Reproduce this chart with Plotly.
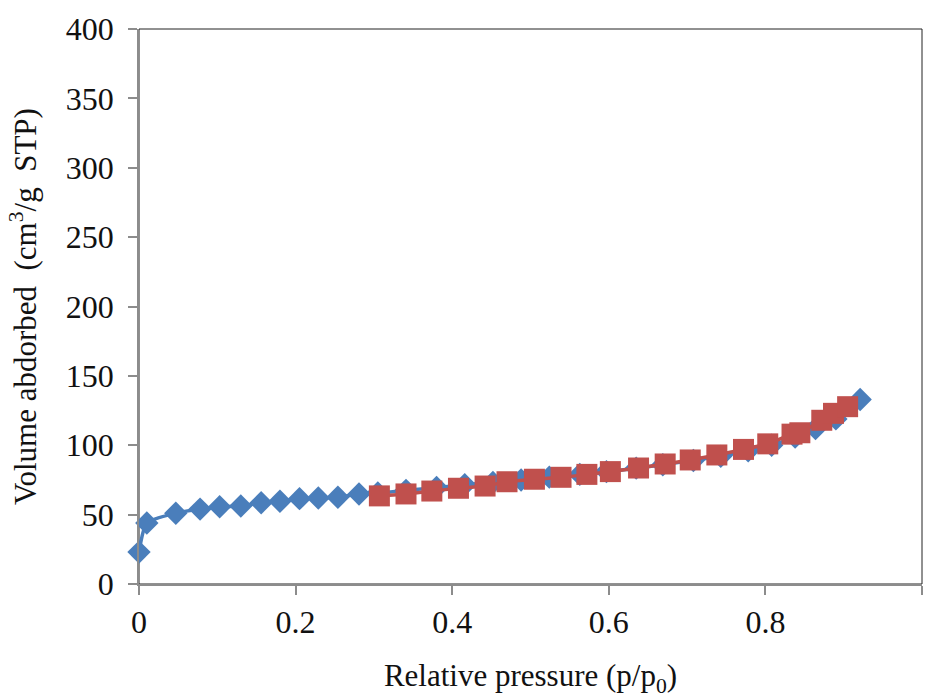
import plotly.graph_objects as go

# Adsorption branch (blue diamonds)
ads_p = [0.0, 0.010, 0.047, 0.078, 0.103, 0.130, 0.156, 0.180, 0.205, 0.229, 0.254, 0.281,
         0.305, 0.341, 0.380, 0.416, 0.452, 0.488, 0.524, 0.563, 0.597, 0.635, 0.669,
         0.708, 0.743, 0.778, 0.808, 0.838, 0.864, 0.890, 0.921]
ads_v = [23, 44, 51, 54, 55.7, 56.2, 58.6, 59.6, 61.5, 62, 62.5, 64.9,
         65.6, 67.5, 69.5, 71.5, 73.2, 75, 77, 79, 81, 83.5, 86,
         89, 92, 96, 100, 106, 112, 119, 133]

# Desorption branch (red squares)
des_p = [0.307, 0.341, 0.374, 0.408, 0.442, 0.470, 0.505, 0.539, 0.572, 0.602, 0.638,
         0.672, 0.704, 0.738, 0.772, 0.803, 0.834, 0.844, 0.872, 0.887, 0.905]
des_v = [63.5, 64.9, 67, 69, 70.6, 73.7, 75.5, 76.9, 79, 81, 83.6,
         86.5, 89.4, 93, 97, 101, 108, 109, 118, 123, 127.8]

x_ticks = [0, 0.2, 0.4, 0.6, 0.8, 1.0]
x_labels = ["0", "0.2", "0.4", "0.6", "0.8", "1"]
y_ticks = [0, 50, 100, 150, 200, 250, 300, 350, 400]

BLUE = "#4A7EBB"
RED = "#C0504D"
FONT = "Liberation Serif"
TICK_SIZE = 32
TITLE_SIZE = 31

fig = go.Figure()
fig.add_trace(go.Scatter(
    x=ads_p, y=ads_v, mode="lines+markers", name="Adsorption",
    line=dict(color=BLUE, width=3.5, shape="spline", smoothing=0.6),
    marker=dict(symbol="diamond", size=18, color=BLUE),
    cliponaxis=False,
))
fig.add_trace(go.Scatter(
    x=des_p, y=des_v, mode="lines+markers", name="Desorption",
    line=dict(color=RED, width=3.5, shape="spline", smoothing=0.6),
    marker=dict(symbol="square", size=21, color=RED),
    cliponaxis=False,
))

# thin dark frame around the plot area
fig.add_shape(type="rect", xref="x domain", yref="y domain", x0=0, x1=1, y0=0, y1=1,
              line=dict(color="#222222", width=1), layer="below")

fig.update_layout(
    width=928, height=698,
    margin=dict(l=139, r=6, t=29, b=114),
    paper_bgcolor="white", plot_bgcolor="white",
    showlegend=False,
    font=dict(family=FONT, size=TICK_SIZE, color="#111111"),
)
fig.update_xaxes(
    range=[0, 1], tickvals=x_ticks, ticktext=x_labels,
    showgrid=False, zeroline=False,
    showline=True, linecolor="#8C8C8C", linewidth=1.5,
    ticks="outside", ticklen=9, tickcolor="#8C8C8C", tickwidth=1.5,
    tickfont=dict(family=FONT, size=TICK_SIZE),
    title=dict(text="Relative pressure (p/p<sub>0</sub>)", font=dict(family=FONT, size=TITLE_SIZE), standoff=30),
)
fig.update_yaxes(
    range=[0, 400], tickvals=y_ticks,
    showgrid=False, zeroline=False,
    showline=True, linecolor="#8C8C8C", linewidth=1.5,
    ticks="outside", ticklen=9, tickcolor="#8C8C8C", tickwidth=1.5,
    ticklabelstandoff=8,
    tickfont=dict(family=FONT, size=TICK_SIZE),
    title=dict(text="Volume abdorbed  (cm<sup>3</sup>/g  STP)", font=dict(family=FONT, size=TITLE_SIZE), standoff=20),
)

fig.write_html("out.html")
